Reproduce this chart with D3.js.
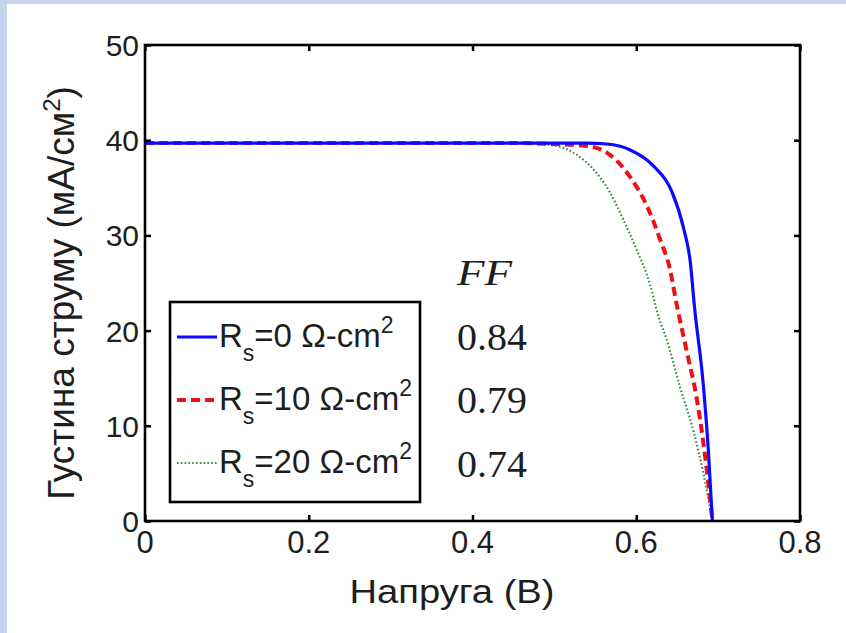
<!DOCTYPE html>
<html><head><meta charset="utf-8">
<script src="https://cdn.jsdelivr.net/npm/d3@7"></script>
<style>body{margin:0;padding:0;overflow:hidden;background:#fff}</style>
</head><body>
<script>
// ---- data ----
const xTicks = [0, 0.2, 0.4, 0.6, 0.8];
const xTickLabels = ["0", "0.2", "0.4", "0.6", "0.8"];
const yTicks = [0, 10, 20, 30, 40, 50];
const yTickLabels = ["0", "10", "20", "30", "40", "50"];

const seriesNames = ["R_s=0", "R_s=10", "R_s=20"];
const legendValues = ["0", "10", "20"];
const ffValues = ["0.84", "0.79", "0.74"];

const vRs0  = [0, 0.50, 0.540, 0.564, 0.592, 0.621, 0.643, 0.658, 0.666, 0.671, 0.682, 0.688, 0.693];
const jRs0  = [39.7, 39.7, 39.7, 39.6, 39.0, 37.3, 34.7, 30.7, 27.2, 22.6, 14.2, 7.5, 0];
const vRs10 = [0, 0.45, 0.499, 0.539, 0.564, 0.592, 0.613, 0.629, 0.641, 0.649, 0.662, 0.674, 0.682, 0.688, 0.693];
const jRs10 = [39.7, 39.7, 39.6, 39.4, 38.7, 36.2, 33.1, 29.6, 26.5, 22.9, 17.7, 12.8, 8.2, 4.0, 0];
const vRs20 = [0, 0.45, 0.495, 0.523, 0.548, 0.568, 0.584, 0.600, 0.617, 0.627, 0.637, 0.653, 0.670, 0.682, 0.693];
const jRs20 = [39.7, 39.7, 39.5, 38.7, 36.9, 34.5, 31.7, 28.6, 24.8, 21.5, 19.1, 14.2, 9.4, 5.0, 0];

const W = 846, H = 633;
const m = {left:145, right:800, top:45, bottom:521};

const svg = d3.select("body").append("svg").attr("width", W).attr("height", H);
svg.append("rect").attr("width", W).attr("height", H).attr("fill", "#c6d5ee");
svg.append("rect").attr("x", 7).attr("y", 4).attr("width", W-7).attr("height", H-4).attr("fill", "#ffffff");

const x = d3.scaleLinear().domain([0, 0.8]).range([m.left, m.right]);
const y = d3.scaleLinear().domain([0, 50]).range([m.bottom, m.top]);

const font = "'Liberation Sans', Arial, sans-serif";
const textColor = "#1e1e1e";

// lines
const series = [
  {v: vRs0, j: jRs0, color: "#0a0aff", width: 3.2, dash: null},
  {v: vRs10, j: jRs10, color: "#ee1111", width: 4, dash: "9,5"},
  {v: vRs20, j: jRs20, color: "#3f8a45", width: 2.2, dash: "1.6,2.2"}
];
const line = d3.line().x(d => x(d[0])).y(d => y(d[1])).curve(d3.curveMonotoneX);
const plotG = svg.append("g");
[2,1,0].forEach(i => {
  const s = series[i];
  plotG.append("path")
    .datum(s.v.map((v, k) => [v, s.j[k]]))
    .attr("d", line).attr("fill", "none")
    .attr("stroke", s.color).attr("stroke-width", s.width)
    .attr("stroke-dasharray", s.dash);
});

// axes frame with inward ticks
const tl = 6;
const axB = d3.axisBottom(x).tickValues(xTicks).tickFormat("").tickSizeInner(-tl).tickSizeOuter(0);
const axT = d3.axisTop(x).tickValues(xTicks).tickFormat("").tickSizeInner(-tl).tickSizeOuter(0);
const axL = d3.axisLeft(y).tickValues(yTicks).tickFormat("").tickSizeInner(-tl).tickSizeOuter(0);
const axR = d3.axisRight(y).tickValues(yTicks).tickFormat("").tickSizeInner(-tl).tickSizeOuter(0);
[[axB, `translate(0,${m.bottom})`], [axT, `translate(0,${m.top})`],
 [axL, `translate(${m.left},0)`], [axR, `translate(${m.right},0)`]].forEach(([a, t]) => {
  const g = svg.append("g").attr("transform", t).call(a);
  g.select(".domain").remove();
  g.selectAll(".tick line").attr("stroke", "#000").attr("stroke-width", 2.5);
});
svg.append("rect").attr("x", m.left).attr("y", m.top)
  .attr("width", m.right - m.left).attr("height", m.bottom - m.top)
  .attr("fill", "none").attr("stroke", "#000").attr("stroke-width", 2.6);

// tick labels
svg.append("g").selectAll("text").data(xTicks).join("text")
  .attr("x", d => x(d)).attr("y", 553)
  .attr("text-anchor", "middle").attr("font-family", font).attr("font-size", 31)
  .attr("fill", textColor).text((d,i) => xTickLabels[i]);
svg.append("g").selectAll("text").data(yTicks).join("text")
  .attr("x", 139).attr("y", d => y(d) + 11)
  .attr("text-anchor", "end").attr("font-family", font).attr("font-size", 30)
  .attr("fill", textColor).text((d,i) => yTickLabels[i]);

// axis titles
svg.append("text").attr("x", 452).attr("y", 603)
  .attr("text-anchor", "middle").attr("font-family", font).attr("font-size", 33)
  .attr("textLength", 205).attr("lengthAdjust", "spacingAndGlyphs")
  .attr("fill", textColor).text("Напруга (В)");
const yl = svg.append("text").attr("transform", "translate(74,293) rotate(-90)")
  .attr("text-anchor", "middle").attr("font-family", font).attr("font-size", 37)
  .attr("fill", textColor);
yl.append("tspan").text("Густина струму (мА/см");
yl.append("tspan").attr("dy", -14).attr("font-size", 24).text("2");
yl.append("tspan").attr("dy", 14).text(")");

// legend
const lg = svg.append("g");
lg.append("rect").attr("x", 170).attr("y", 302).attr("width", 250).attr("height", 200)
  .attr("fill", "#fff").attr("stroke", "#000").attr("stroke-width", 2.6);
const rowY = [347, 410, 473];
series.forEach((s, i) => {
  const ly = rowY[i] - 10;
  lg.append("line").attr("x1", 177).attr("x2", 217).attr("y1", ly).attr("y2", ly)
    .attr("stroke", s.color).attr("stroke-width", s.width).attr("stroke-dasharray", s.dash);
  const t = lg.append("text").attr("x", 219).attr("y", rowY[i])
    .attr("font-family", font).attr("font-size", 33).attr("fill", textColor);
  t.append("tspan").text("R");
  t.append("tspan").attr("dy", 14).attr("font-size", 23).text("s");
  t.append("tspan").attr("dy", -14).text("=" + legendValues[i] + " Ω-cm");
  t.append("tspan").attr("dy", -14).attr("font-size", 23).text("2");
});

// FF annotation
const serif = "'Liberation Serif', 'Times New Roman', serif";
svg.append("text").attr("x", 457).attr("y", 285)
  .attr("font-family", serif).attr("font-style", "italic").attr("font-size", 35)
  .attr("textLength", 55).attr("lengthAdjust", "spacingAndGlyphs")
  .attr("fill", textColor).text("FF");
svg.append("g").selectAll("text").data(ffValues).join("text")
  .attr("x", 457).attr("y", (d,i) => [350, 413, 477][i])
  .attr("font-family", serif).attr("font-size", 37).attr("fill", textColor)
  .attr("textLength", 70).attr("lengthAdjust", "spacingAndGlyphs")
  .text(d => d);
</script>
</body></html>
